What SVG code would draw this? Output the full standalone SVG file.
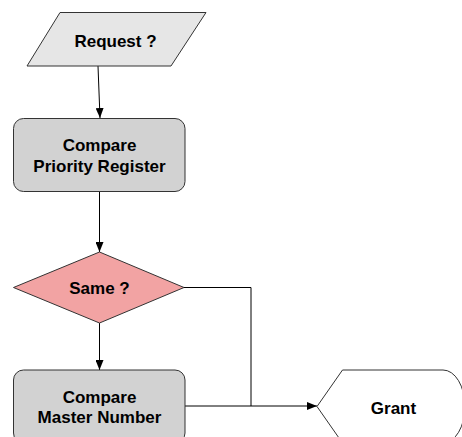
<svg xmlns="http://www.w3.org/2000/svg" width="462" height="437" viewBox="0 0 462 437">
  <style>
    .lbl { font-family: "Liberation Sans", Arial, sans-serif; font-weight: bold; font-size: 17px; fill: #000; text-anchor: middle; }
    .shape { stroke: #333; stroke-width: 1; }
    .conn { fill: none; stroke: #000; stroke-width: 1; }
  </style>
  <defs>
    <marker id="arrow" markerUnits="userSpaceOnUse" markerWidth="10" markerHeight="8" refX="10" refY="4" orient="auto">
      <path d="M0,0 L10,4 L0,8 z" fill="#000"/>
    </marker>
  </defs>
  <rect width="462" height="437" fill="#fff"/>

  <g id="connectors">
    <path class="conn" d="M98,66 L100,118" marker-end="url(#arrow)"/>
    <path class="conn" d="M99.5,192 L99.5,252" marker-end="url(#arrow)"/>
    <path class="conn" d="M99.5,323 L99.5,370" marker-end="url(#arrow)"/>
    <path class="conn" d="M184,287.5 L251,287.5 L251,406"/>
    <path class="conn" d="M185,406 L317,406" marker-end="url(#arrow)"/>
  </g>

  <g id="request">
    <polygon class="shape" points="60,12.5 206,12.5 171,66 27,66" fill="#e6e6e6"/>
    <text class="lbl" x="115.5" y="47">Request ?</text>
  </g>

  <g id="compare-priority">
    <rect class="shape" x="13.5" y="118.5" width="171.5" height="73" rx="10" ry="10" fill="#d2d2d2"/>
    <text class="lbl" x="99.5" y="151">Compare</text>
    <text class="lbl" x="99.5" y="171.5">Priority Register</text>
  </g>

  <g id="same">
    <polygon class="shape" points="99.5,252 184,287.5 99.5,323 13.5,287.5" fill="#f2a3a3"/>
    <text class="lbl" x="99.5" y="294">Same ?</text>
  </g>

  <g id="compare-master">
    <rect class="shape" x="13.5" y="370" width="171.5" height="73" rx="10" ry="10" fill="#d2d2d2"/>
    <text class="lbl" x="99.5" y="402.5">Compare</text>
    <text class="lbl" x="99.5" y="423">Master Number</text>
  </g>

  <g id="grant">
    <path class="shape" d="M317,406.5 L342.5,370 L443,370 A22,36.5 0 0 1 443,443 L342.5,443 Z" fill="#fff"/>
    <text class="lbl" x="393.5" y="413.5">Grant</text>
  </g>
</svg>
